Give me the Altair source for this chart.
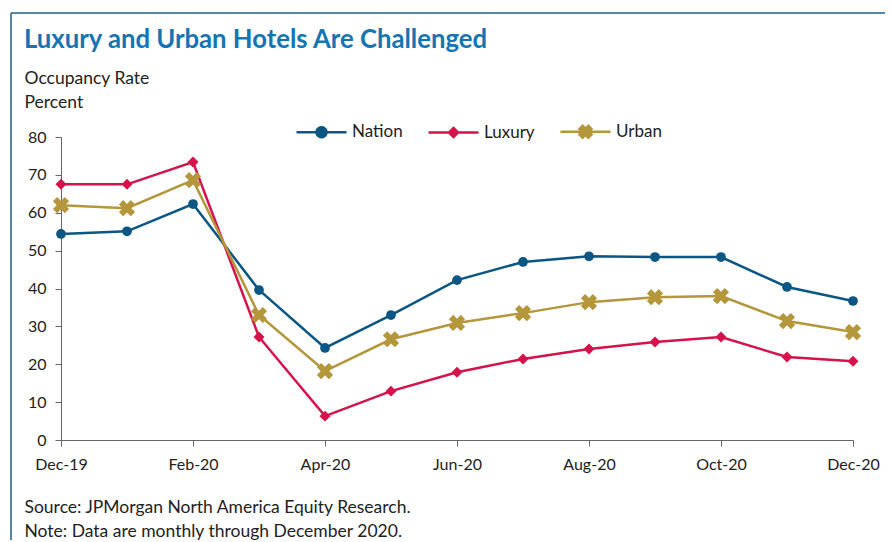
import json
import math
import altair as alt
import pandas as pd

# ---------------- data ----------------
months = ["Dec-19", "Jan-20", "Feb-20", "Mar-20", "Apr-20", "May-20", "Jun-20",
          "Jul-20", "Aug-20", "Sep-20", "Oct-20", "Nov-20", "Dec-20"]
nation = [54.4, 55.1, 62.3, 39.6, 24.3, 33.0, 42.2, 47.0, 48.5, 48.3, 48.3, 40.4, 36.7]
luxury = [67.5, 67.5, 73.4, 27.2, 6.3, 12.9, 17.9, 21.4, 24.0, 25.9, 27.2, 21.9, 20.8]
urban = [62.0, 61.2, 68.6, 33.0, 18.2, 26.6, 30.9, 33.5, 36.4, 37.7, 38.0, 31.4, 28.5]
series_names = ["Nation", "Luxury", "Urban"]
series_colors = ["#0b5683", "#d5124a", "#b4963b"]
y_ticks = [0, 10, 20, 30, 40, 50, 60, 70, 80]
x_tick_idx = [0, 2, 4, 6, 8, 10, 12]
title_text = "Luxury and Urban Hotels Are Challenged"
y_title = ["Occupancy Rate", "Percent"]
footer = ["Source: JPMorgan North America Equity Research.",
          "Note: Data are monthly through December 2020."]

rows = []
for name, vals in zip(series_names, [nation, luxury, urban]):
    for i, v in enumerate(vals):
        rows.append({"idx": i, "month": months[i], "series": name, "value": v})
df = pd.DataFrame(rows)

# ---------------- marker paths ----------------
def x_path(a, w):
    pts = [(w, -a), (w, -w), (a, -w), (a, w), (w, w), (w, a), (-w, a), (-w, w),
           (-a, w), (-a, -w), (-w, -w), (-w, -a)]
    r = [((x - y) / math.sqrt(2), (x + y) / math.sqrt(2)) for x, y in pts]
    return "M" + "L".join(f"{x:.3f},{y:.3f}" for x, y in r) + "Z"

def circle_path(r, n=20):
    pts = [(r * math.cos(2 * math.pi * k / n), r * math.sin(2 * math.pi * k / n))
           for k in range(n)]
    return "M" + "L".join(f"{x:.3f},{y:.3f}" for x, y in pts) + "Z"

X_MARK = x_path(1.4, 0.5)

leg_circle = "M-1,0L1,0" + circle_path(0.2)
leg_diamond = "M-1,0L1,0M0,-0.18L0.18,0L0,0.18L-0.18,0Z"
leg_x = "M-1,0L1,0" + x_path(0.25, 0.09)

W, H = 792, 303
PL, PT = 53, 129

# colour scale for lines/markers (domain listed alphabetically so that it is a
# different scale domain from the legend scales and is not merged with them)
color_domain = sorted(series_names)
color_range = [series_colors[series_names.index(s)] for s in color_domain]
color_scale = alt.Scale(domain=color_domain, range=color_range)
label_expr = json.dumps(months) + "[datum.value]"

x_enc = alt.X("idx:Q",
              scale=alt.Scale(domain=[0, 12], nice=False, zero=False),
              axis=alt.Axis(values=x_tick_idx, labelExpr=label_expr, grid=False,
                            tickSize=6, labelPadding=10, labelFontSize=16,
                            labelOverlap=False, labelFlush=False,
                            labelColor="#222", domainColor="#666", tickColor="#666",
                            title=footer,
                            titleX=-37, titleY=72, titleAlign="left",
                            titleBaseline="alphabetic", titleAnchor="start",
                            titleFontSize=17.5, titleFontWeight="normal",
                            titleColor="#222", titleLineHeight=24))
y_enc = alt.Y("value:Q",
              scale=alt.Scale(domain=[0, 80], nice=False),
              axis=alt.Axis(values=y_ticks, grid=False, tickSize=6, labelPadding=9,
                            labelFontSize=16, labelColor="#222", labelOverlap=False,
                            labelFlush=False,
                            domainColor="#666", tickColor="#666",
                            title=y_title, titleAngle=0,
                            titleX=-37, titleY=-54, titleAlign="left",
                            titleBaseline="alphabetic", titleFontSize=17.5,
                            titleFontWeight="normal", titleColor="#222",
                            titleLineHeight=24))

base = alt.Chart(df)
col = alt.Color("series:N", scale=color_scale, legend=None)

lines = base.mark_line(strokeWidth=2.5).encode(
    x=x_enc, y=y_enc, color=col, detail="series:N")

pts_nation = base.transform_filter(alt.datum.series == "Nation").mark_point(
    shape="circle", filled=True, size=95, opacity=1).encode(x=x_enc, y=y_enc, color=col)
pts_luxury = base.transform_filter(alt.datum.series == "Luxury").mark_point(
    shape="diamond", filled=True, size=120, opacity=1).encode(x=x_enc, y=y_enc, color=col)
pts_urban = base.transform_filter(alt.datum.series == "Urban").mark_point(
    shape=X_MARK, filled=True, size=145, opacity=1).encode(x=x_enc, y=y_enc, color=col)

leg = alt.Legend(
    title=None, orient="none", direction="horizontal",
    legendX=234, legendY=-32, symbolSize=2500,
    symbolOpacity=1, symbolStrokeWidth=2.5,
    labelFontSize=17, labelColor="#222", labelOffset=4,
    columnPadding=20)

# legend-only layer: no rows survive the filter, the legend is built from the scale domains
legend_layer = base.transform_filter(alt.datum.value < 0).mark_point(
    size=2500, strokeWidth=2.5, filled=True).encode(
    x=x_enc, y=y_enc,
    fill=alt.Fill("series:N", scale=alt.Scale(domain=series_names, range=series_colors),
                  legend=leg),
    stroke=alt.Stroke("series:N", scale=alt.Scale(domain=series_names, range=series_colors),
                      legend=leg),
    shape=alt.Shape("series:N",
                    scale=alt.Scale(domain=series_names,
                                    range=[leg_circle, leg_diamond, leg_x]),
                    legend=leg),
)

one = pd.DataFrame({"a": [0]})
border_top = alt.Chart(one).mark_rule(color="#1f5f8f", strokeWidth=1.5).encode(
    x=alt.value(-50), x2=alt.value(W + 40), y=alt.value(-124))
border_left = alt.Chart(one).mark_rule(color="#1f5f8f", strokeWidth=1.5).encode(
    x=alt.value(-50), y=alt.value(-124), y2=alt.value(H + 110))
title_mark = alt.Chart(one).mark_text(
    align="left", baseline="alphabetic", fontSize=25.7, fontWeight="bold",
    color="#1574b3", font="Lato").encode(
    x=alt.value(-37), y=alt.value(-89), text=alt.value(title_text))

chart = alt.layer(border_top, border_left, title_mark, lines, pts_nation, pts_luxury,
                  pts_urban, legend_layer).properties(
    width=W, height=H,
    padding={"left": PL, "top": PT, "right": 32, "bottom": 100},
    autosize=alt.AutoSizeParams(type="none"),
).configure(font="Lato", view=alt.ViewConfig(stroke=None))

chart.save("out.html", embed_options={"renderer": "svg", "actions": False})
